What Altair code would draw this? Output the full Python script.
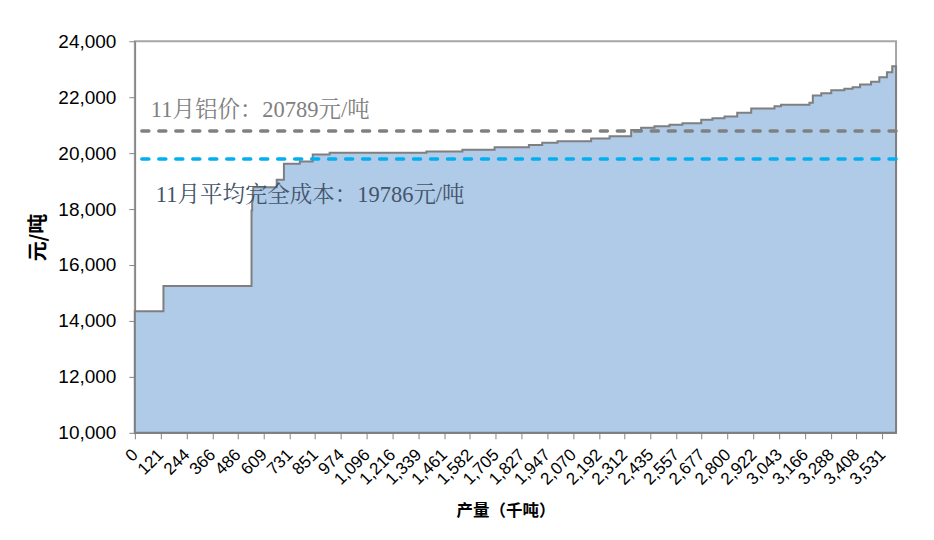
import altair as alt
import pandas as pd

# Cumulative output (thousand tons) where each cost step begins, and the cost level (yuan/ton)
step_x = [0, 135, 551, 554, 557, 559, 670, 704, 779, 840, 920, 1377, 1547, 1699, 1861,
          1924, 1996, 2155, 2242, 2344, 2391, 2454, 2525, 2586, 2675, 2728, 2785, 2845,
          2911, 3021, 3052, 3186, 3202, 3242, 3289, 3351, 3390, 3425, 3477, 3516, 3552,
          3577, 3595]
step_cost = [14346, 15249, 17950, 18300, 18600, 18780, 19049, 19620, 19702, 19952, 20013,
             20060, 20120, 20213, 20290, 20370, 20427, 20520, 20600, 20830, 20906, 20963,
             21013, 21070, 21192, 21249, 21309, 21442, 21600, 21677, 21727, 21799, 22059,
             22141, 22248, 22298, 22356, 22452, 22548, 22713, 22891, 23105, 23105]

x_ticks = [0, 121, 244, 366, 486, 609, 731, 851, 974, 1096, 1216, 1339, 1461, 1582, 1705,
           1827, 1947, 2070, 2192, 2312, 2435, 2557, 2677, 2800, 2922, 3043, 3166, 3288,
           3408, 3531]
y_ticks = [10000, 12000, 14000, 16000, 18000, 20000, 22000, 24000]

price = 20789
avg_cost = 19786
price_label = "11月铝价：20789元/吨"
cost_label = "11月平均完全成本：19786元/吨"

df = pd.DataFrame({"x": step_x, "cost": step_cost})

x_enc = alt.X(
    "x:Q",
    scale=alt.Scale(domain=[0, 3595], nice=False, zero=False),
    axis=alt.Axis(
        values=x_ticks, format=",d", labelAngle=-45, labelAlign="right",
        labelBaseline="middle", labelOverlap=False, labelFlush=False,
        labelFontSize=17, labelFont="Liberation Sans", labelColor="black",
        labelPadding=13, tickSize=6, tickColor="#868686", domainColor="#868686",
        domainWidth=1.5, grid=False, title="产量（千吨）",
        titleFont="Noto Sans CJK SC", titleFontSize=16.5, titleFontWeight="bold",
        titleColor="black", titleX=371, titleY=78, titleBaseline="middle",
        titleAlign="center",
    ),
)
y_enc = alt.Y(
    "cost:Q",
    scale=alt.Scale(domain=[10000, 24000], nice=False, zero=False),
    axis=alt.Axis(
        values=y_ticks, format=",d", labelFontSize=19, labelFont="Liberation Sans",
        labelColor="black", labelPadding=13, tickSize=6, tickColor="#868686",
        domainColor="#868686", domainWidth=1.5, grid=False, title="元/吨",
        titleFont="Noto Sans CJK SC", titleFontSize=20, titleFontWeight="bold",
        titleColor="black", titlePadding=9,
    ),
)

area = alt.Chart(df).mark_area(
    interpolate="step-after", color="#afcbe8", stroke="#7f7f7f", strokeWidth=2
).encode(x=x_enc, y=y_enc, y2=alt.datum(10000))

rule_price = alt.Chart(pd.DataFrame({"cost": [price]})).mark_rule(
    color="#808080", strokeWidth=3.5, strokeDash=[7, 10], strokeCap="round"
).encode(y="cost:Q")

rule_cost = alt.Chart(pd.DataFrame({"cost": [avg_cost]})).mark_rule(
    color="#00b0f0", strokeWidth=3.5, strokeDash=[7, 10], strokeCap="round"
).encode(y="cost:Q")

font_ann = "Liberation Serif, Noto Serif CJK SC, Noto Sans CJK SC"
text_price = alt.Chart(pd.DataFrame({"t": [price_label]})).mark_text(
    align="left", baseline="alphabetic", font=font_ann, fontSize=22.5, color="#808080"
).encode(text="t:N", x=alt.value(16), y=alt.value(76))

text_cost = alt.Chart(pd.DataFrame({"t": [cost_label]})).mark_text(
    align="left", baseline="alphabetic", font=font_ann, fontSize=22.5, color="#44546a"
).encode(text="t:N", x=alt.value(21), y=alt.value(161))

chart = alt.layer(area, rule_price, rule_cost, text_price, text_cost).properties(
    width=762, height=392,
    autosize=alt.AutoSizeParams(type="none"),
    padding={"left": 127, "top": 33, "right": 30, "bottom": 100},
    background="white",
).configure_view(stroke="#a6a6a6", strokeWidth=2)

chart.save("out.html", embed_options={"renderer": "svg", "actions": False})
